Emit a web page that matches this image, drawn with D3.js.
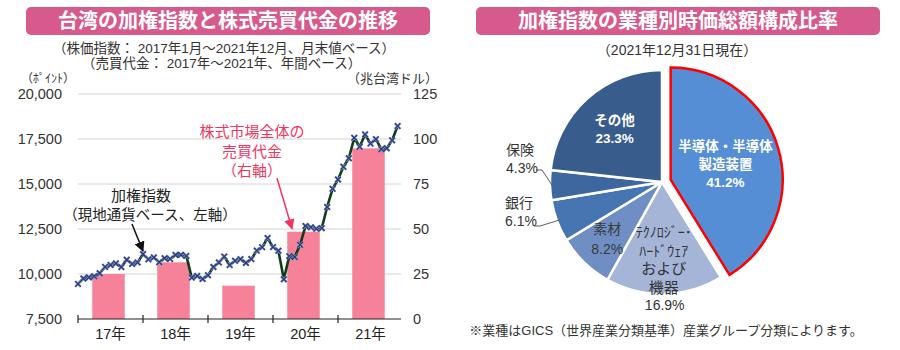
<!DOCTYPE html>
<html><head><meta charset="utf-8">
<script src="https://cdn.jsdelivr.net/npm/d3@7"></script>
<style>
html,body{margin:0;padding:0;background:#fff;}
svg{display:block;font-family:"Liberation Sans","Noto Sans CJK JP",sans-serif;}
</style></head>
<body><svg id="c" width="900" height="350"></svg>
<script>
// ---------- DATA ----------
const years = ["17年","18年","19年","20年","21年"];
const turnover = [25.0, 31.5, 18.5, 48.5, 94.8]; // 兆台湾ドル
const taiex = [
  9448, 9750, 9812, 9872, 10041, 10395, 10503, 10586, 10384, 10793, 10560, 10643,
  11104, 10815, 10919, 10657, 10875, 10837, 11057, 11064, 11006, 9802, 9888, 9727,
  9932, 10389, 10641, 10968, 10498, 10731, 10824, 10618, 10830, 11300, 11489, 11997,
  11495, 11292, 9708, 10992, 10943, 11621, 12665, 12592, 12516, 12546, 13723, 14732,
  15250, 15953, 16431, 17567, 17068, 17755, 17247, 17490, 16935, 16987, 17428, 18218
];
const leftTicks = [7500, 10000, 12500, 15000, 17500, 20000];
const rightTicks = [0, 25, 50, 75, 100, 125];
const sectorNames = ["半導体・半導体製造装置","テクノロジー・ハードウェアおよび機器","素材","銀行","保険","その他"];
const sectorShares = [41.2, 16.9, 8.2, 6.1, 4.3, 23.3];

// ---------- SETUP ----------
const svg = d3.select("#c");

function titleBar(x, w, text) {
  svg.append("rect").attr("x", x).attr("y", 7).attr("width", w).attr("height", 28)
    .attr("rx", 5).attr("fill", "#D65A8B");
  svg.append("text").attr("x", x + w / 2).attr("y", 28).attr("text-anchor", "middle")
    .attr("fill", "#fff").attr("font-size", 20).attr("font-weight", "bold")
    .attr("font-family", '"Noto Sans CJK JP",sans-serif').text(text);
}
titleBar(26, 404, "台湾の加権指数と株式売買代金の推移");
titleBar(476, 404, "加権指数の業種別時価総額構成比率");

// ---------- LEFT CHART ----------
const plotTop = 94, plotBottom = 319, x0 = 78, x1 = 403;
const yL = d3.scaleLinear().domain([7500, 20000]).range([plotBottom, plotTop]);
const yR = d3.scaleLinear().domain([0, 125]).range([plotBottom, plotTop]);
const xM = d3.scaleLinear().domain([0, 60]).range([x0, x1]);
const xB = d3.scaleBand().domain(years).range([x0, x1]).paddingInner(0.5).paddingOuter(0.25);
const xY = d3.scaleBand().domain(years).range([x0, x1]);

svg.append("text").attr("x", 224).attr("y", 53).attr("text-anchor", "middle")
  .attr("font-size", 13.5).attr("fill", "#333").text("（株価指数： 2017年1月～2021年12月、月末値ベース）");
svg.append("text").attr("x", 82).attr("y", 68)
  .attr("font-size", 13.5).attr("fill", "#333").text("（売買代金： 2017年～2021年、年間ベース）");
svg.append("text").attr("x", 21).attr("y", 83)
  .attr("font-size", 12).attr("fill", "#333").text("（ﾎﾟｲﾝﾄ）");
svg.append("text").attr("x", 438).attr("y", 83).attr("text-anchor", "end")
  .attr("font-size", 13).attr("fill", "#333").text("（兆台湾ドル）");

svg.append("g").selectAll("line").data(leftTicks.slice(1)).join("line")
  .attr("x1", x0).attr("x2", 401).attr("y1", d => yL(d)).attr("y2", d => yL(d))
  .attr("stroke", "#d4d4d4").attr("stroke-width", 1);

svg.append("g").selectAll("text").data(leftTicks).join("text")
  .attr("x", 62).attr("y", d => yL(d) + 5).attr("text-anchor", "end")
  .attr("font-size", 14.5).attr("fill", "#333").text(d => d3.format(",")(d));
svg.append("g").selectAll("text").data(rightTicks).join("text")
  .attr("x", 413).attr("y", d => yR(d) + 5)
  .attr("font-size", 14.5).attr("fill", "#333").text(d => d);

svg.append("g").selectAll("rect").data(turnover).join("rect")
  .attr("x", (d, i) => xB(years[i]) - 2).attr("width", xB.bandwidth())
  .attr("y", d => yR(d)).attr("height", d => yR(0) - yR(d))
  .attr("fill", "#F6829A");

svg.append("line").attr("x1", x0).attr("x2", 401).attr("y1", plotBottom).attr("y2", plotBottom)
  .attr("stroke", "#222").attr("stroke-width", 1.2);
svg.append("g").selectAll("line").data([0, 12, 24, 36, 48]).join("line")
  .attr("x1", d => xM(d)).attr("x2", d => xM(d)).attr("y1", plotBottom - 4).attr("y2", plotBottom + 4)
  .attr("stroke", "#222").attr("stroke-width", 1.2);
svg.append("g").selectAll("text").data(years).join("text")
  .attr("x", d => xY(d) + xY.bandwidth() / 2).attr("y", 339).attr("text-anchor", "middle")
  .attr("font-size", 14.5).attr("fill", "#222").text(d => d);

const line = d3.line().x((d, i) => xM(i)).y(d => yL(d));
svg.append("path").datum(taiex).attr("d", line).attr("fill", "none")
  .attr("stroke", "#0f3d1a").attr("stroke-width", 2.6).attr("stroke-linejoin", "round");
const mk = svg.append("g");
const s = 2.8;
const xPath = (d, i) => { const x = xM(i), y = yL(d);
  return `M${x - s},${y - s}L${x + s},${y + s}M${x - s},${y + s}L${x + s},${y - s}`; };
mk.append("g").selectAll("path").data(taiex).join("path").attr("d", xPath)
  .attr("stroke", "#8ea0dc").attr("stroke-width", 2.4).attr("fill", "none");
mk.append("g").selectAll("path").data(taiex).join("path").attr("d", xPath)
  .attr("stroke", "#2b3a78").attr("stroke-width", 1.3).attr("fill", "none");

svg.append("defs").html(`
  <marker id="ab" viewBox="0 0 10 10" refX="9" refY="5" markerWidth="7" markerHeight="7" orient="auto-start-reverse">
    <path d="M0,0L10,5L0,10z" fill="#111"/></marker>
  <marker id="ar" viewBox="0 0 10 10" refX="9" refY="5" markerWidth="7" markerHeight="7" orient="auto-start-reverse">
    <path d="M0,0L10,5L0,10z" fill="#F0365E"/></marker>`);
svg.append("text").attr("x", 141).attr("y", 201).attr("text-anchor", "middle")
  .attr("font-size", 15).attr("fill", "#222").text("加権指数");
svg.append("text").attr("x", 150).attr("y", 220).attr("text-anchor", "middle")
  .attr("font-size", 14.5).attr("fill", "#222").text("（現地通貨ベース、左軸）");
svg.append("line").attr("x1", 132).attr("y1", 224).attr("x2", xM(12)).attr("y2", yL(taiex[12]) - 3)
  .attr("stroke", "#111").attr("stroke-width", 1.5).attr("marker-end", "url(#ab)");

const red = "#F0365E";
[["株式市場全体の", 137], ["売買代金", 157], ["（右軸）", 176]].forEach(([t, y]) =>
  svg.append("text").attr("x", 252).attr("y", y).attr("text-anchor", "middle")
    .attr("font-size", 15).attr("fill", red).text(t));
svg.append("line").attr("x1", 277).attr("y1", 178).attr("x2", 292).attr("y2", yR(turnover[3]) - 3)
  .attr("stroke", red).attr("stroke-width", 1.5).attr("marker-end", "url(#ar)");

// ---------- PIE ----------
svg.append("text").attr("x", 677).attr("y", 55).attr("text-anchor", "middle")
  .attr("font-size", 14).attr("fill", "#333").text("（2021年12月31日現在）");
svg.append("text").attr("x", 666).attr("y", 335).attr("text-anchor", "middle")
  .attr("font-size", 13).attr("fill", "#333").text("※業種はGICS（世界産業分類基準）産業グループ分類によります。");

const cx = 662, cy = 182, R = 112;
const colors = ["#558ED5", "#A5B5D8", "#6F8EC4", "#4775B2", "#3F679F", "#385C8B"];
const pie = d3.pie().sort(null).value(d => d).startAngle(0).endAngle(2 * Math.PI);
const arcs = pie(sectorShares);
const arc = d3.arc().innerRadius(0).outerRadius(R);
const pg = svg.append("g").attr("transform", `translate(${cx},${cy})`);
const explode = 9;
function polar(a, r) { return [r * Math.sin(a), -r * Math.cos(a)]; }
arcs.forEach((a, i) => {
  const mid = (a.startAngle + a.endAngle) / 2;
  const off = i === 0 ? polar(mid, explode) : [0, 0];
  pg.append("path").attr("d", arc(a)).attr("transform", `translate(${off[0]},${off[1]})`)
    .attr("fill", colors[i])
    .attr("stroke", i === 0 ? "#FF0000" : "#fff")
    .attr("stroke-width", 2.5).attr("stroke-linejoin", "miter");
});

function label(i, r, lines, opts) {
  const a = arcs[i], mid = (a.startAngle + a.endAngle) / 2;
  const off = i === 0 ? polar(mid, explode) : [0, 0];
  const p = polar(mid, r);
  const x = p[0] + off[0], y = p[1] + off[1];
  const n = lines.length;
  lines.forEach((t, k) => {
    pg.append("text").attr("x", x).attr("y", y + (k - (n - 1) / 2) * opts.lh + opts.fs * 0.36)
      .attr("text-anchor", "middle").attr("font-size", t[1] || opts.fs)
      .attr("font-weight", opts.bold ? "bold" : "normal").attr("fill", opts.fill)
      .text(t[0]);
  });
}
const pct = v => v.toFixed(1) + "%";
label(0, 57, [["半導体・半導体"], ["製造装置"], [pct(sectorShares[0])]], {fs: 13.5, lh: 18, bold: true, fill: "#fff"});
label(5, 71, [["その他"], [pct(sectorShares[5])]], {fs: 13.5, lh: 18, bold: true, fill: "#fff"});
label(2, 79, [["素材"], [pct(sectorShares[2])]], {fs: 14, lh: 20, bold: false, fill: "#3a3a3a"});
label(1, 78, [["ﾃｸﾉﾛｼﾞｰ･"], ["ﾊｰﾄﾞｳｪｱ"], ["および", 15], ["機器", 15]], {fs: 14, lh: 18.5, bold: false, fill: "#333"});
{
  const a = arcs[1], mid = (a.startAngle + a.endAngle) / 2, p = polar(mid, R + 11);
  pg.append("text").attr("x", p[0]).attr("y", p[1] + 5).attr("text-anchor", "middle")
    .attr("font-size", 14).attr("fill", "#333").text(pct(sectorShares[1]));
}
function outside(i, tx, ty, name, path) {
  svg.append("text").attr("x", tx).attr("y", ty).attr("font-size", 14).attr("fill", "#333").text(name);
  svg.append("text").attr("x", tx).attr("y", ty + 18).attr("font-size", 14).attr("fill", "#333").text(pct(sectorShares[i]));
  const a = arcs[i], mid = (a.startAngle + a.endAngle) / 2, e = polar(mid, R - 2);
  svg.append("path").attr("d", `M${path[0]},${path[1]}L${path[2]},${path[3]}L${cx + e[0]},${cy + e[1]}`)
    .attr("fill", "none").attr("stroke", "#333").attr("stroke-width", 0.8);
}
outside(4, 506, 155, "保険", [536, 170, 542, 170]);
outside(3, 505, 208, "銀行", [534, 226, 540, 226]);
</script></body></html>
